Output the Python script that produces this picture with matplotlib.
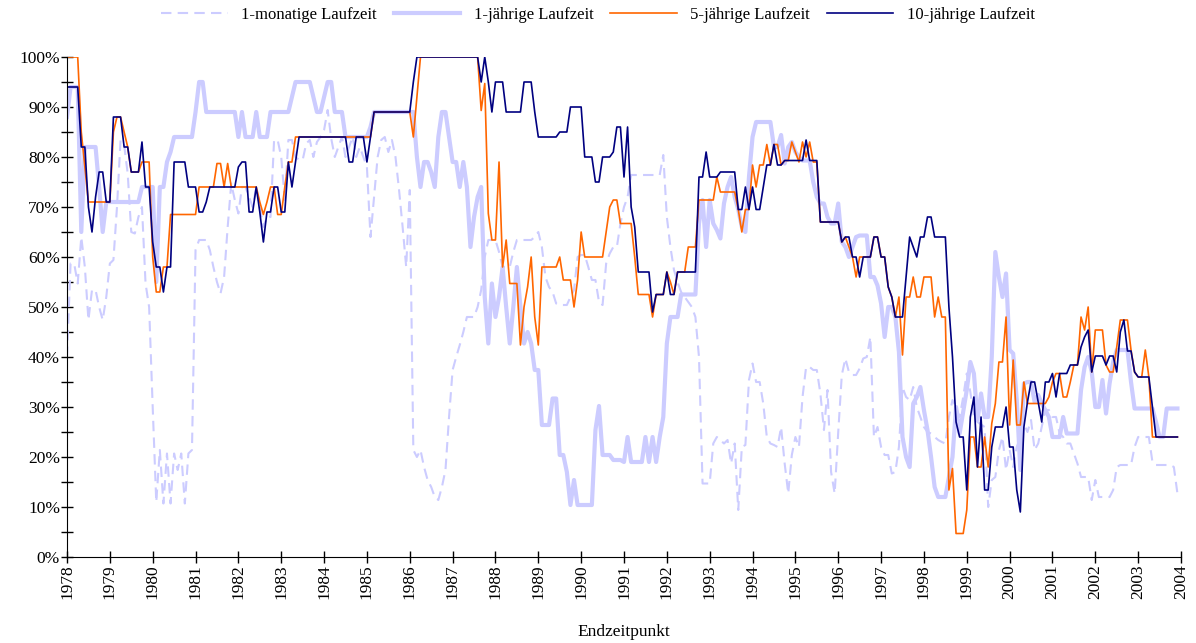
import numpy as np
import matplotlib
matplotlib.use("Agg")
import matplotlib.pyplot as plt
from matplotlib.ticker import MultipleLocator, FuncFormatter

# ── Data: monthly values in %, one row per year 1978..2003 ───────────────────

years = list(range(1978, 2004))

t_1m = [
    [40, 58.7, 58.7, 54.7, 64, 58, 47.4, 53.4, 53.4, 50, 47.4, 52],
    [58.7, 59.4, 70, 83.4, 82.4, 76.7, 65, 64.7, 68, 70, 54.7, 50],
    [30, 11, 21.4, 10.7, 20.7, 10.7, 20.7, 17.4, 20.7, 10.7, 20.7, 21.4],
    [61.4, 63.4, 63.4, 63.4, 61.4, 58, 55, 52.7, 56, 66, 74.7, 71.4],
    [68.7, 74, 74, 72, 70, 74, 70, 66, 68, 68, 83.4, 83.4],
    [80, 71.4, 83.4, 83.4, 80, 79.4, 79.4, 82.7, 83.4, 80, 83, 84],
    [85.4, 89.4, 83.7, 80, 82, 84, 80, 82, 84, 80, 82, 80],
    [78, 64, 72, 80, 83.4, 84, 81, 83.4, 80, 73.4, 66, 58],
    [73.4, 21.4, 20, 21.4, 18, 15.4, 14, 12, 11.4, 14, 17.4, 28],
    [37.4, 40, 42.4, 45, 48, 48, 48, 50, 53.4, 60, 63.4, 63.4],
    [63.4, 61, 58, 58, 58, 61, 63.4, 63.4, 63.4, 63.4, 63.4, 64],
    [65, 62, 56, 54, 53, 50.7, 50.4, 50.4, 50.4, 52, 53.4, 60],
    [60.4, 60.4, 58, 55.4, 55.4, 51, 50.4, 58.7, 60.7, 62, 62, 66.7],
    [70, 72, 76.4, 76.4, 76.4, 76.4, 76.4, 76.4, 76.4, 76.4, 76.4, 80.4],
    [68, 62, 57.4, 55, 53, 52, 51, 50, 48, 40, 14.7, 14.7],
    [14.7, 22.7, 24, 23.4, 22.7, 23.4, 18.7, 22.7, 9.4, 22, 22.4, 35.4],
    [38.7, 35, 35, 30.7, 24, 22.7, 22.4, 22, 26, 18.7, 12.7, 20.4],
    [24, 22, 32, 38, 38, 37.4, 37.4, 32.7, 25.4, 33.4, 17, 12.7],
    [25, 36.4, 39.7, 37, 36.4, 36.4, 37.7, 39.7, 40, 44, 24, 26],
    [22, 20.4, 20.4, 16.7, 17, 22, 34, 32, 31.4, 34, 30, 28],
    [26, 25, 24.7, 24, 23.4, 23, 22.7, 28, 31.4, 30, 28, 32],
    [36.7, 33, 28, 27, 26.5, 26, 10, 15.4, 16, 21.4, 24, 17.4],
    [21.4, 18, 22, 24, 26.7, 25, 27.4, 21.4, 22.7, 26, 29.4, 29.4],
    [28, 28, 24.7, 24, 22.7, 22.7, 20.7, 18.7, 16, 16, 16, 11.4],
    [15.4, 12, 12, 12, 12, 13.4, 18, 18.4, 18.4, 18.4, 18.4, 22],
    [24, 24, 24, 24, 19, 18.4, 18.4, 18.4, 18.4, 18.4, 18, 12.7],
]

t_1y = [
    [88, 94, 94, 94, 65, 82, 82, 82, 82, 74, 65, 71],
    [71, 71, 71, 71, 71, 71, 71, 71, 71, 74, 74, 74],
    [74, 55, 74, 74, 79, 81, 84, 84, 84, 84, 84, 84],
    [89, 95, 95, 89, 89, 89, 89, 89, 89, 89, 89, 89],
    [84, 89, 84, 84, 84, 89, 84, 84, 84, 89, 89, 89],
    [89, 89, 89, 92, 95, 95, 95, 95, 95, 92, 89, 89],
    [92, 95, 95, 89, 89, 89, 84, 84, 84, 84, 84, 84],
    [84, 86, 89, 89, 89, 89, 89, 89, 89, 89, 89, 89],
    [89, 89, 80, 74, 79, 79, 77, 74, 84, 89, 89, 84],
    [79, 79, 74, 79, 74, 62, 68, 72, 74, 52, 42.7, 54.7],
    [48, 52, 58, 50, 42.7, 50, 58, 50, 42.7, 45, 42.7, 37.4],
    [37.4, 26.4, 26.4, 26.4, 31.7, 31.7, 20.4, 20.4, 17, 10.4, 15.4, 10.4],
    [10.4, 10.4, 10.4, 10.4, 25.4, 30.2, 20.4, 20.4, 20.4, 19.4, 19.4, 19.4],
    [19, 24, 19, 19, 19, 19, 24, 19, 24, 19, 24, 28],
    [42.7, 48, 48, 48, 52.5, 52.5, 52.5, 52.5, 52.5, 66.7, 71.4, 62],
    [71.4, 66.7, 65.4, 63.7, 70.7, 74, 76, 72, 69.5, 66, 65, 76],
    [84, 87, 87, 87, 87, 87, 82, 82, 84.4, 78.7, 82, 83],
    [81, 80, 79.3, 79.3, 79.3, 75, 72, 70.7, 70.7, 68, 66.7, 66.7],
    [70.7, 63, 62, 60, 62, 64, 64.3, 64.3, 64.3, 56, 56, 54.3],
    [50.7, 44, 50, 50, 48, 41, 24, 20, 18, 30.7, 32, 34],
    [29.4, 25.4, 20, 14, 12, 12, 12, 16, 20, 30, 24.7, 29],
    [33.4, 39, 36.7, 27.4, 32.7, 28, 28, 40, 61, 56, 52, 56.7],
    [41.4, 40.7, 31.4, 17.4, 34.7, 35, 35, 31, 32.4, 30.7, 29.4, 28],
    [24, 24, 24, 28, 24.7, 24.7, 24.7, 24.7, 33.4, 38, 40, 37],
    [30, 30, 35.4, 28.7, 34.7, 39, 41.4, 41.4, 41.4, 41.4, 35, 29.7],
    [29.7, 29.7, 29.7, 29.7, 29.7, 27, 24, 24, 29.7, 29.7, 29.7, 29.7],
]

t_5y = [
    [100, 100, 100, 100, 85, 78, 71, 71, 71, 71, 71, 71],
    [71, 85, 88, 88, 85, 82, 77, 77, 77, 79, 79, 79],
    [60, 53, 53, 58, 58, 68.5, 68.5, 68.5, 68.5, 68.5, 68.5, 68.5],
    [68.5, 74, 74, 74, 74, 74, 78.7, 78.7, 74, 78.7, 74, 74],
    [74, 74, 74, 74, 74, 74, 71, 68.5, 71, 74, 74, 68.5],
    [68.5, 74, 79, 79, 84, 84, 84, 84, 84, 84, 84, 84],
    [84, 84, 84, 84, 84, 84, 84, 84, 84, 84, 84, 84],
    [84, 84, 89, 89, 89, 89, 89, 89, 89, 89, 89, 89],
    [89, 84, 92, 100, 100, 100, 100, 100, 100, 100, 100, 100],
    [100, 100, 100, 100, 100, 100, 100, 100, 89.3, 94.7, 68.7, 63.4],
    [63.4, 79, 58, 63.4, 54.7, 54.7, 54.7, 42.4, 50, 54, 60, 48],
    [42.4, 58, 58, 58, 58, 58, 60, 55.4, 55.4, 55.4, 50, 55.4],
    [65, 60, 60, 60, 60, 60, 60, 65, 70, 71.4, 71.4, 66.7],
    [66.7, 66.7, 66.7, 60, 52.5, 52.5, 52.5, 52.5, 48, 52.5, 52.5, 52.5],
    [57, 55, 52.5, 57, 57, 57, 62, 62, 62, 71.4, 71.4, 71.4],
    [71.4, 71.4, 76, 73, 73, 73, 73, 73, 69.5, 65, 69.5, 69.5],
    [78.4, 74, 78.4, 78.4, 82.5, 78.4, 82.5, 82.5, 78.4, 79.3, 79.3, 83],
    [81, 79, 83, 80, 83, 79, 79, 67, 67, 67, 67, 67],
    [67, 63, 64, 62, 60, 56, 60, 60, 60, 60, 64, 64],
    [60, 60, 54, 52, 48, 52, 40.4, 52, 52, 56, 52, 52],
    [56, 56, 56, 48, 52, 48, 48, 13.4, 17.7, 4.7, 4.7, 4.7],
    [9.4, 24, 24, 18, 18, 24, 18, 26.7, 30.7, 39, 39, 48],
    [26.4, 39.4, 26.4, 26.4, 35, 30.7, 30.7, 30.7, 30.7, 30.7, 30.7, 32],
    [35, 36.7, 36.7, 32, 32, 35, 38.4, 38.4, 48, 45.4, 50, 37],
    [45.4, 45.4, 45.4, 38.4, 37, 37, 42, 47.4, 47.4, 47.4, 41.4, 37],
    [36, 36, 41.4, 36, 24, 24, 24, 24, 24, 24, 24, 24],
]

t_10y = [
    [94, 94, 94, 94, 82, 82, 70, 65, 72, 77, 77, 71],
    [71, 88, 88, 88, 82, 82, 77, 77, 77, 83, 74, 74],
    [63, 58, 58, 53, 58, 58, 79, 79, 79, 79, 74, 74],
    [74, 69, 69, 71, 74, 74, 74, 74, 74, 74, 74, 74],
    [78, 79, 79, 69, 69, 74, 69, 63, 69, 69, 74, 74],
    [69, 69, 79, 74, 79, 84, 84, 84, 84, 84, 84, 84],
    [84, 84, 84, 84, 84, 84, 84, 79, 79, 84, 84, 84],
    [79, 84, 89, 89, 89, 89, 89, 89, 89, 89, 89, 89],
    [89, 95, 100, 100, 100, 100, 100, 100, 100, 100, 100, 100],
    [100, 100, 100, 100, 100, 100, 100, 100, 95, 100, 95, 89],
    [95, 95, 95, 89, 89, 89, 89, 89, 95, 95, 95, 89],
    [84, 84, 84, 84, 84, 84, 85, 85, 85, 90, 90, 90],
    [90, 80, 80, 80, 75, 75, 80, 80, 80, 81, 86, 86],
    [76, 86, 70, 66, 57, 57, 57, 57, 49, 52.5, 52.5, 52.5],
    [57, 52.5, 52.5, 57, 57, 57, 57, 57, 57, 76, 76, 81],
    [76, 76, 76, 77, 77, 77, 77, 77, 69.5, 69.5, 74, 69.5],
    [74, 69.5, 69.5, 74, 78.4, 78.4, 82.5, 78.4, 78.4, 79.3, 79.3, 79.3],
    [79.3, 79.3, 79.3, 83.4, 79.3, 79.3, 79.3, 67, 67, 67, 67, 67],
    [67, 63, 64, 64, 60, 60, 56, 60, 60, 60, 64, 64],
    [60, 60, 54, 52, 48, 48, 48, 56, 64, 62, 60, 64],
    [64, 68, 68, 64, 64, 64, 64, 50, 40, 27, 24, 24],
    [13.4, 28, 32, 18, 28, 13.4, 13.4, 22, 26, 26, 26, 30],
    [22, 22, 13.4, 9, 26, 31, 35, 35, 31, 27, 35, 35],
    [36.7, 32, 36.7, 36.7, 36.7, 38.4, 38.4, 38.4, 42, 44, 45.4, 37],
    [40.2, 40.2, 40.2, 38.4, 40.2, 40.2, 37, 45, 47.4, 41.2, 41.2, 37],
    [36, 36, 36, 36, 30, 24, 24, 24, 24, 24, 24, 24],
]

labels = ["1-monatige Laufzeit", "1-jährige Laufzeit",
          "5-jährige Laufzeit", "10-jährige Laufzeit"]

# ── Plot ─────────────────────────────────────────────────────────────────────

plt.rcParams["font.family"] = ["Liberation Serif", "DejaVu Serif"]

x = years[0] + np.arange(len(years) * 12) / 12.0

fig = plt.figure(figsize=(11.96, 6.43), dpi=100)
ax = fig.add_axes([67 / 1196, 86 / 643, 1114 / 1196, 500 / 643])

light = "#ccccff"
ax.plot(x, np.ravel(t_1m), color=light, lw=1.5, dashes=(5, 3), label=labels[0])
ax.plot(x, np.ravel(t_1y), color=light, lw=3.0, label=labels[1])
ax.plot(x, np.ravel(t_5y), color="#ff6600", lw=1.2, label=labels[2])
ax.plot(x, np.ravel(t_10y), color="#000080", lw=1.2, label=labels[3])

ax.set_xlim(1978, 2004)
ax.set_ylim(0, 100)

for side in ["top", "right"]:
    ax.spines[side].set_visible(False)

ax.xaxis.set_major_locator(MultipleLocator(1))
ax.yaxis.set_major_locator(MultipleLocator(10))
ax.yaxis.set_minor_locator(MultipleLocator(5))
ax.yaxis.set_major_formatter(FuncFormatter(lambda v, p: f"{v:.0f}%"))
ax.xaxis.set_major_formatter(FuncFormatter(lambda v, p: f"{v:.0f}"))

ax.tick_params(axis="both", which="both", direction="inout", length=8,
               width=1, labelsize=12.5)
ax.tick_params(axis="x", labelrotation=90, pad=1)
ax.tick_params(axis="y", pad=1)

ax.set_xlabel("Endzeitpunkt", fontsize=12.5, labelpad=18)

fig.legend(loc="center", bbox_to_anchor=(0.5, 0.977), ncol=4, frameon=False,
           fontsize=12, handlelength=4.0, columnspacing=1.0, handletextpad=0.8)

fig.savefig("out.png", dpi=100)
